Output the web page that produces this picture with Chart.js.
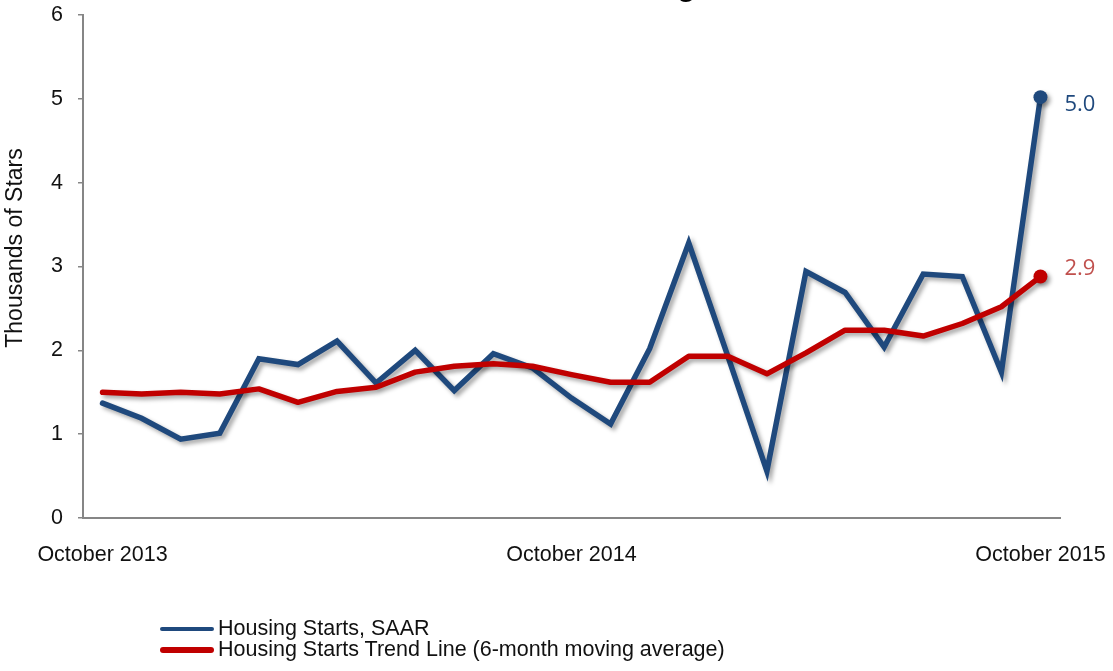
<!DOCTYPE html>
<html>
<head>
<meta charset="utf-8">
<script src="https://cdn.jsdelivr.net/npm/chart.js@4.4.1/dist/chart.umd.min.js"></script>
<style>
  html, body { margin: 0; padding: 0; background: #fff; }
  #wrap { position: relative; width: 1113px; height: 671px; overflow: hidden; }
  #legend { position: absolute; left: 160px; top: 618px; font-family: "Liberation Sans", Arial, sans-serif; font-size: 21.5px; color: #111; line-height: 21px; }
  .row { display: flex; align-items: center; height: 21px; white-space: nowrap; }
  .sw { width: 54px; border-radius: 3px; margin-right: 4px; }
</style>
</head>
<body>
<div id="wrap">
  <canvas id="c" width="1113" height="671"></canvas>
  <div id="legend"></div>
</div>
<script>
const chartTitle = "New Residential Housing Starts";
const yAxisTitle = "Thousands of Stars";
const months = [
  "October 2013","November 2013","December 2013","January 2014","February 2014","March 2014",
  "April 2014","May 2014","June 2014","July 2014","August 2014","September 2014",
  "October 2014","November 2014","December 2014","January 2015","February 2015","March 2015",
  "April 2015","May 2015","June 2015","July 2015","August 2015","September 2015","October 2015"
];
const shownTickLabels = ["October 2013","October 2014","October 2015"];
const startsSAAR = [1.37,1.19,0.94,1.01,1.90,1.83,2.11,1.61,2.00,1.52,1.96,1.79,1.43,1.12,2.02,3.28,1.93,0.56,2.94,2.69,2.04,2.91,2.88,1.74,5.02];
const trendMA6   = [1.50,1.48,1.50,1.48,1.54,1.38,1.51,1.56,1.74,1.81,1.84,1.81,1.71,1.62,1.62,1.93,1.93,1.72,1.97,2.24,2.24,2.17,2.32,2.52,2.88];
const seriesNames = ["Housing Starts, SAAR","Housing Starts Trend Line (6-month moving average)"];
const yTicks = [0,1,2,3,4,5,6];

const BLUE = "#1F497D", RED = "#C00000", RED_LABEL = "#C0504D";
const FONT = '"Liberation Sans", Arial, sans-serif';

const lastOnly = r => ctx => ctx.dataIndex === ctx.dataset.data.length - 1 ? r : 0;

const shadowPlugin = {
  id: 'shadow',
  beforeDatasetDraw(chart) {
    const ctx = chart.ctx;
    ctx.save();
    ctx.shadowColor = 'rgba(0,0,0,0.35)';
    ctx.shadowBlur = 4;
    ctx.shadowOffsetX = 3;
    ctx.shadowOffsetY = 3;
  },
  afterDatasetDraw(chart) { chart.ctx.restore(); }
};

const endLabelPlugin = {
  id: 'endLabels',
  afterDatasetsDraw(chart) {
    const ctx = chart.ctx;
    chart.data.datasets.forEach((ds, i) => {
      const meta = chart.getDatasetMeta(i);
      const n = ds.data.length - 1;
      const el = meta.data[n];
      ctx.save();
      ctx.font = '22px "Open Sans", "Noto Sans", sans-serif';
      ctx.fillStyle = ds.labelColor;
      ctx.textAlign = 'left';
      ctx.textBaseline = 'middle';
      ctx.fillText(ds.data[n].toFixed(1), el.x + 24, el.y + ds.labelDy);
      ctx.restore();
    });
  }
};

const textPlugin = {
  id: 'texts',
  afterDraw(chart) {
    const ctx = chart.ctx;
    ctx.save();
    // title (mostly above the visible area, as in the reference)
    ctx.font = 'bold 30px ' + FONT;
    ctx.fillStyle = '#000';
    ctx.textAlign = 'center';
    ctx.textBaseline = 'alphabetic';
    ctx.fillText(chartTitle, 563, -4);
    // y axis title
    ctx.translate(16, 248);
    ctx.rotate(-Math.PI / 2);
    ctx.font = '23px ' + FONT;
    ctx.fillStyle = '#111';
    ctx.textAlign = 'center';
    ctx.textBaseline = 'middle';
    ctx.fillText(yAxisTitle, 0, 0);
    ctx.restore();
  }
};

new Chart(document.getElementById('c'), {
  type: 'line',
  data: {
    labels: months,
    datasets: [
      {
        label: seriesNames[0], data: startsSAAR, borderColor: BLUE, backgroundColor: BLUE,
        borderWidth: 5.5, tension: 0, pointRadius: lastOnly(7), pointHoverRadius: lastOnly(7),
        pointBorderWidth: 0, order: 1, labelColor: BLUE, labelDy: 8, borderCapStyle: 'round', borderJoinStyle: 'miter'
      },
      {
        label: seriesNames[1], data: trendMA6, borderColor: RED, backgroundColor: RED,
        borderWidth: 5.5, tension: 0, pointRadius: lastOnly(7), pointHoverRadius: lastOnly(7),
        pointBorderWidth: 0, order: 0, labelColor: RED_LABEL, labelDy: -8, borderCapStyle: 'round', borderJoinStyle: 'round'
      }
    ]
  },
  options: {
    responsive: false,
    animation: false,
    devicePixelRatio: 1,
    layout: { padding: { top: 15, right: 53, left: 0, bottom: 0 } },
    plugins: { legend: { display: false }, tooltip: { enabled: false }, title: { display: false } },
    scales: {
      x: {
        type: 'category',
        offset: true,
        grid: { display: false },
        border: { display: true, color: '#868686', width: 2 },
        ticks: {
          autoSkip: false, maxRotation: 0, minRotation: 0, padding: 16,
          color: '#111', font: { family: FONT, size: 21.5 },
          callback: function(v, i) { const l = this.getLabelForValue(v); return shownTickLabels.includes(l) ? l : ''; }
        },
        afterFit(scale) { scale.height = 153; scale.paddingLeft = 0; scale.paddingRight = 0; }
      },
      y: {
        min: 0, max: 6,
        afterBuildTicks(scale) { scale.ticks = yTicks.map(v => ({ value: v })); },
        grid: { display: true, drawOnChartArea: false, drawTicks: true, tickLength: 5, color: '#868686', lineWidth: 1.5 },
        border: { display: true, color: '#868686', width: 2 },
        ticks: { padding: 15, color: '#111', font: { family: FONT, size: 21.5 } },
        afterFit(scale) { scale.width = 83; scale.paddingTop = 0; scale.paddingBottom = 0; }
      }
    }
  },
  plugins: [shadowPlugin, endLabelPlugin, textPlugin]
});

// HTML legend built from the series names
const legend = document.getElementById('legend');
[[seriesNames[0], BLUE, 4], [seriesNames[1], RED, 6]].forEach(([name, col, h]) => {
  const row = document.createElement('div'); row.className = 'row';
  const sw = document.createElement('span'); sw.className = 'sw';
  sw.style.background = col; sw.style.height = h + 'px';
  const t = document.createElement('span'); t.textContent = name;
  row.appendChild(sw); row.appendChild(t); legend.appendChild(row);
});
</script>
</body>
</html>
